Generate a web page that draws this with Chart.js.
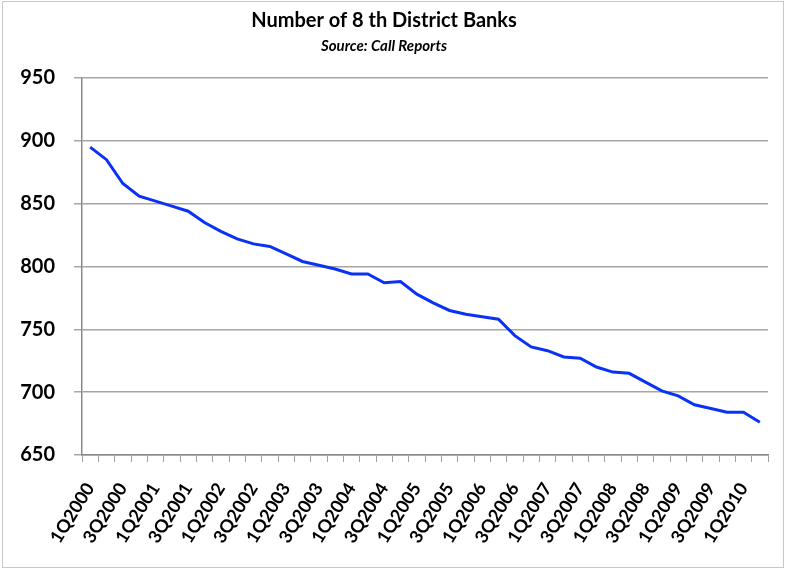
<!DOCTYPE html>
<html>
<head>
<meta charset="utf-8">
<script src="https://cdn.jsdelivr.net/npm/chart.js@4"></script>
<style>
  html, body { margin: 0; padding: 0; background: #fff; }
  #wrap { position: relative; width: 787px; height: 569px; }
  #frame {
    position: absolute; left: 2px; top: 1px; width: 780px; height: 565px;
    border: 1px solid #c8c8c8; pointer-events: none;
  }
</style>
</head>
<body>
<div id="wrap">
  <canvas id="banks" width="787" height="569"></canvas>
  <div id="frame"></div>
</div>
<script>
  /* ---------- DATA ---------- */
  const quarters = [
    "1Q2000", "2Q2000", "3Q2000", "4Q2000",
    "1Q2001", "2Q2001", "3Q2001", "4Q2001",
    "1Q2002", "2Q2002", "3Q2002", "4Q2002",
    "1Q2003", "2Q2003", "3Q2003", "4Q2003",
    "1Q2004", "2Q2004", "3Q2004", "4Q2004",
    "1Q2005", "2Q2005", "3Q2005", "4Q2005",
    "1Q2006", "2Q2006", "3Q2006", "4Q2006",
    "1Q2007", "2Q2007", "3Q2007", "4Q2007",
    "1Q2008", "2Q2008", "3Q2008", "4Q2008",
    "1Q2009", "2Q2009", "3Q2009", "4Q2009",
    "1Q2010", "2Q2010"
  ];

  const bankCounts = [
    895, 885, 866, 856, 852, 848, 844, 835, 828, 822,
    818, 816, 810, 804, 801, 798, 794, 794, 787, 788,
    778, 771, 765, 762, 760, 758, 745, 736, 733, 728,
    727, 720, 716, 715, 708, 701, 697, 690, 687, 684,
    684, 676
  ];

  const yTicks = [650, 700, 750, 800, 850, 900, 950];

  /* ---------- CHART ---------- */
  const ctx = document.getElementById("banks").getContext("2d");

  new Chart(ctx, {
    type: "line",
    data: {
      labels: quarters,
      datasets: [{
        label: "Banks",
        data: bankCounts,
        borderColor: "#0a32f5",
        borderWidth: 3,
        pointRadius: 0,
        tension: 0,
        fill: false
      }]
    },
    options: {
      responsive: false,
      animation: false,
      layout: { padding: { top: 0, right: 19, bottom: 10, left: 0 } },
      plugins: {
        legend: { display: false },
        tooltip: { enabled: false },
        title: {
          display: true,
          text: "Number of 8 th District Banks",
          color: "#000",
          font: { family: "Lato", size: 20, weight: "bold" },
          padding: { top: 9, bottom: 2 }
        },
        subtitle: {
          display: true,
          text: "Source: Call Reports",
          color: "#000",
          font: { family: "Lato", size: 15, weight: "bold", style: "italic" },
          padding: { top: 2, bottom: 23 }
        }
      },
      scales: {
        x: {
          offset: true,
          // fixed band height, no extra side padding from rotated labels
          afterFit: s => { s.height = 104; s.paddingLeft = 0; s.paddingRight = 0; },
          grid: {
            offset: true,
            drawOnChartArea: false,
            drawTicks: true,
            tickLength: 7,
            color: "#a0a0a0",
            lineWidth: 1
          },
          border: { display: true, color: "#8a8a8a", width: 1.5 },
          ticks: {
            autoSkip: false,
            minRotation: 58,
            maxRotation: 58,
            padding: 17,
            color: "#000",
            font: { family: "Lato", size: 18, weight: "bold" },
            callback: function (v, i) { return i % 2 === 0 ? quarters[i] : ""; }
          }
        },
        y: {
          min: 650,
          max: 950,
          afterFit: s => { s.width = 82; },
          afterBuildTicks: s => { s.ticks = yTicks.map(v => ({ value: v })); },
          grid: {
            color: "#a6a6a6",
            lineWidth: 1.5,
            drawTicks: true,
            tickLength: 8
          },
          border: { display: true, color: "#8a8a8a", width: 1.5 },
          ticks: {
            padding: 19,
            color: "#000",
            font: { family: "Lato", size: 20, weight: "bold" }
          }
        }
      }
    }
  });
</script>
</body>
</html>
